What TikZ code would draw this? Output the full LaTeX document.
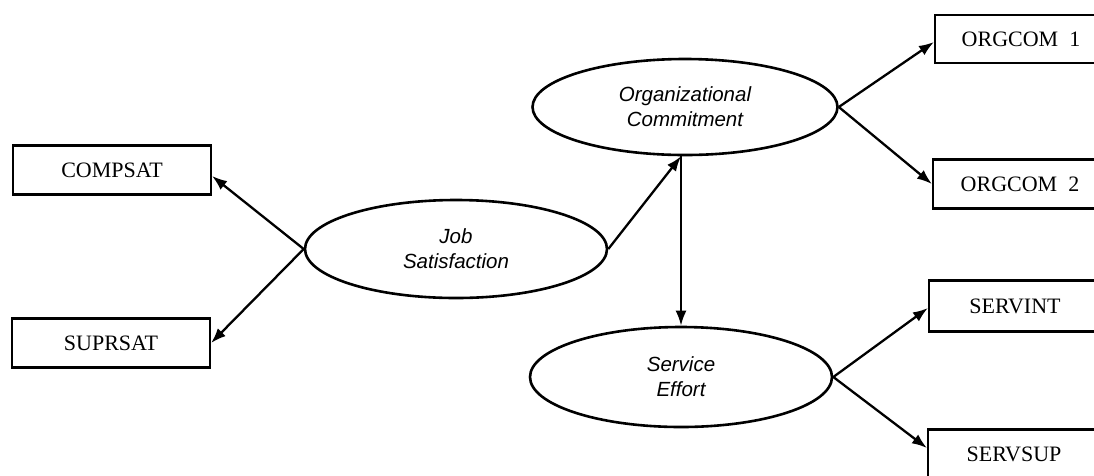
\documentclass[tikz,border=0pt]{standalone}
\usepackage{fontspec}
\setmainfont{Liberation Serif}
\newfontfamily\ovalfont{Liberation Sans}
\usetikzlibrary{shapes.geometric,arrows.meta}
\begin{document}
\begin{tikzpicture}[x=1pt,y=-1pt,
  obsbox/.style={draw, line width=2.2pt, rectangle, minimum height=49pt, inner sep=0pt,
    font=\fontsize{22}{26}\selectfont},
  latent/.style={draw, line width=2.6pt, ellipse, inner sep=0pt, align=center,
    font=\ovalfont\itshape\fontsize{20.5}{25}\selectfont},
  link/.style={line width=2.3pt, -{Latex[length=15pt,width=11pt]}}]
\path[use as bounding box, fill=white] (0,0) rectangle (1094,475);

% latent variables
\node[latent, minimum width=302pt, minimum height=98pt] (job) at (456,249) {Job\\Satisfaction};
\node[latent, minimum width=305pt, minimum height=96pt] (org) at (685,107) {Organizational\\Commitment};
\node[latent, minimum width=302pt, minimum height=100pt] (serv) at (681,377) {Service\\Effort};

% indicators
\node[obsbox, minimum width=198pt] (compsat) at (112,170) {COMPSAT};
\node[obsbox, minimum width=198pt] (suprsat) at (111,343) {SUPRSAT};
\node[obsbox, minimum width=172pt, minimum height=48pt] (orgcom1) at (1021,39) {ORGCOM\ \ 1};
\node[obsbox, minimum width=174pt] (orgcom2) at (1020,184) {ORGCOM\ \ 2};
\node[obsbox, minimum width=172pt, minimum height=51pt] (servint) at (1015,306) {SERVINT};
\node[obsbox, minimum width=172pt] (servsup) at (1014,454) {SERVSUP};

\coordinate (oc) at (serv.north |- org.south);

% connectors
\draw[link] (job.west) -- ([yshift=-6pt]compsat.east);
\draw[link] (job.west) -- (suprsat.east);
\draw[link] (job.east) -- (oc);
\draw[link] (oc) -- (serv.north);
\draw[link] (org.east) -- ([yshift=-3pt]orgcom1.west);
\draw[link] (org.east) -- (orgcom2.west);
\draw[link] (serv.east) -- ([yshift=-2pt]servint.west);
\draw[link] (serv.east) -- ([yshift=6pt]servsup.west);
\end{tikzpicture}
\end{document}
